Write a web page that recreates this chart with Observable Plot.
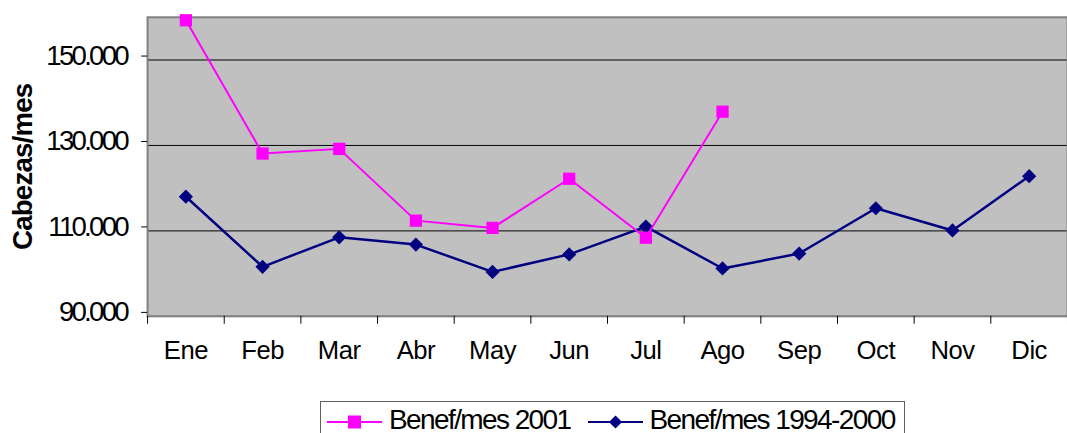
<!DOCTYPE html>
<html>
<head>
<meta charset="utf-8">
<script src="https://cdn.jsdelivr.net/npm/d3@7"></script>
<script src="https://cdn.jsdelivr.net/npm/@observablehq/plot@0.6"></script>
<style>
  html, body { margin: 0; padding: 0; background: #fff; overflow: hidden; width: 1067px; height: 433px; }
  #chart { position: absolute; left: 0; top: 0; }
  .xlchart g[aria-label="y-axis tick label"] text { letter-spacing: -2.8px; }
  .xlchart g[aria-label="x-axis tick label"] text { letter-spacing: -0.5px; }
  .xlchart g[aria-label="text"] text { letter-spacing: -0.8px; }
  #legend { position: absolute; left: 320px; top: 401px; width: 585px; height: 40px;
    border: 1px solid #606060; background: #fff; font-family: "Liberation Sans", Arial, sans-serif;
    font-size: 28px; letter-spacing: -1.6px; display: flex; align-items: flex-start; padding-top: 2px; box-sizing: border-box; }
  .item { display: flex; align-items: center; }
  .item svg { margin-right: 7px; }
</style>
</head>
<body>
<div id="chart"></div>
<div id="legend"></div>
<script>
const months = ["Ene","Feb","Mar","Abr","May","Jun","Jul","Ago","Sep","Oct","Nov","Dic"];
const benef2001 = [159300, 128100, 129200, 112400, 110700, 122200, 108400, 137900];
const benef9400 = [118000, 101600, 108500, 106800, 100400, 104500, 111000, 101200, 104700, 115300, 110100, 122800];
const yTicks = [90000, 110000, 130000, 150000];
const seriesNames = ["Benef/mes 2001", "Benef/mes 1994-2000"];
const colors = ["#FF00FF", "#000080"];

const d2001 = benef2001.map((v, i) => ({i: i + 0.5, v}));
const d9400 = benef9400.map((v, i) => ({i: i + 0.5, v}));
const fmt = v => d3.format(",")(v).replace(/,/g, ".");

const chart = Plot.plot({
  className: "xlchart",
  width: 1081,
  height: 400,
  marginLeft: 149,
  marginRight: 0,
  marginTop: 17,
  marginBottom: 80,
  style: {fontFamily: "'Liberation Sans', Arial, sans-serif", fontSize: "26px", background: "transparent", overflow: "visible", color: "#000"},
  x: {domain: [0, 12]},
  y: {domain: [90000, 160000]},
  marks: [
    Plot.frame({fill: "#c0c0c0"}),
    Plot.gridY(yTicks, {stroke: "#000", strokeOpacity: 1, strokeWidth: 1}),
    Plot.frame({stroke: "#808080", strokeWidth: 2}),
    Plot.axisY(yTicks, {tickSize: 6, tickPadding: 15, tickFormat: fmt, label: null, fontSize: 28, dy: -4, stroke: "#000"}),
    Plot.axisX(d3.range(13), {tickSize: 8, tickFormat: () => "", label: null, stroke: "#000"}),
    Plot.axisX(d3.range(12).map(i => i + 0.5), {tickSize: 0, tickPadding: 25, tickFormat: d => months[Math.floor(d)], label: null, fontSize: 26}),
    Plot.text(["Cabezas/mes"], {frameAnchor: "left", textAnchor: "middle", rotate: -90, dx: -126, fontWeight: "bold", fontSize: 28, fill: "#000"}),
    Plot.line(d9400, {x: "i", y: "v", stroke: colors[1], strokeWidth: 2.5}),
    Plot.dot(d9400, {x: "i", y: "v", symbol: "diamond2", r: 6.5, fill: colors[1], stroke: null}),
    Plot.line(d2001, {x: "i", y: "v", stroke: colors[0], strokeWidth: 2}),
    Plot.dot(d2001, {x: "i", y: "v", symbol: "square", r: 7, fill: colors[0], stroke: null})
  ]
});
document.getElementById("chart").appendChild(chart);

// legend
const legend = document.getElementById("legend");
const leftPad = [6, 17];
seriesNames.forEach((name, k) => {
  const item = document.createElement("div");
  item.className = "item";
  item.style.marginLeft = leftPad[k] + "px";
  const sw = d3.create("svg").attr("width", 55).attr("height", 30);
  sw.append("line").attr("x1", 0).attr("x2", 55).attr("y1", 17).attr("y2", 17).attr("stroke", colors[k]).attr("stroke-width", 2);
  const sym = d3.symbol().type(k === 0 ? d3.symbolSquare : d3.symbolDiamond2).size(k === 0 ? 169 : 110);
  sw.append("path").attr("d", sym()).attr("transform", "translate(27.5,17)").attr("fill", colors[k]);
  item.appendChild(sw.node());
  const t = document.createElement("span");
  t.textContent = name;
  item.appendChild(t);
  legend.appendChild(item);
});
</script>
</body>
</html>
